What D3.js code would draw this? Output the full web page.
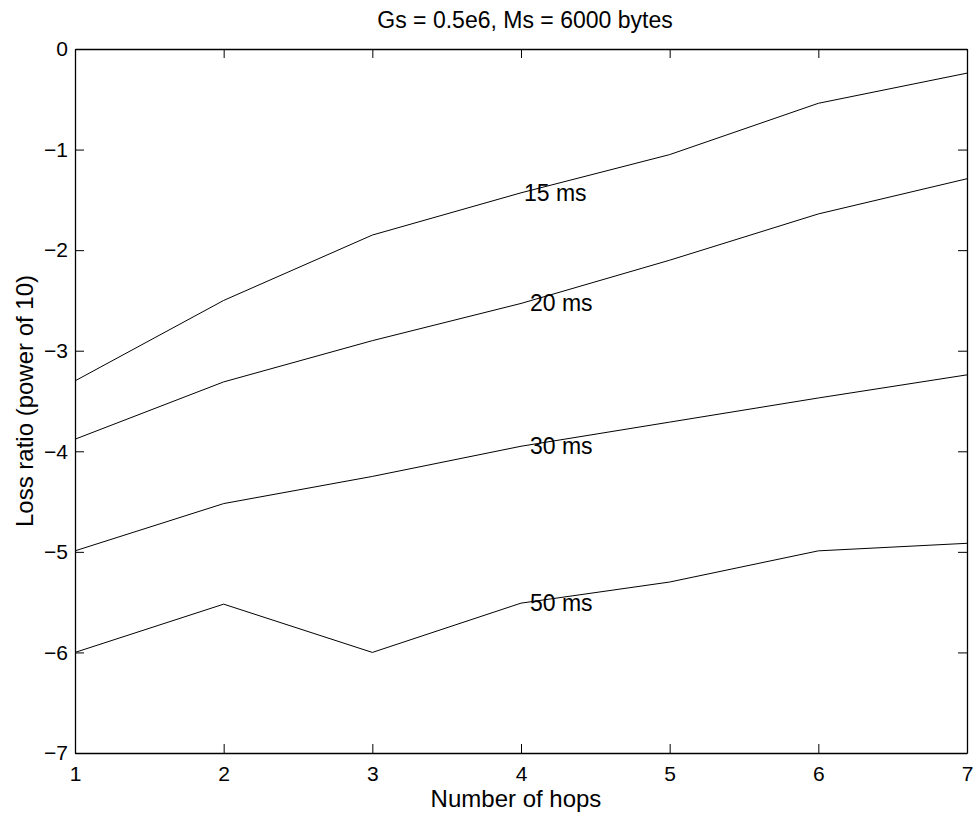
<!DOCTYPE html>
<html>
<head>
<meta charset="utf-8">
<script src="https://cdn.jsdelivr.net/npm/d3@7"></script>
<style>
  body { margin: 0; background: #fff; }
  svg { display: block; font-family: "Liberation Sans", Arial, sans-serif; }
</style>
</head>
<body>
<div id="chart"></div>
<script>
// hops on the x axis
const hops = [1, 2, 3, 4, 5, 6, 7];

// loss ratio (log10) per delay bound
const loss15 = [-3.30, -2.50, -1.85, -1.43, -1.05, -0.54, -0.24];
const loss20 = [-3.88, -3.31, -2.90, -2.53, -2.10, -1.64, -1.29];
const loss30 = [-4.99, -4.52, -4.25, -3.95, -3.71, -3.47, -3.24];
const loss50 = [-6.00, -5.52, -6.00, -5.51, -5.30, -4.99, -4.915];

const seriesNames = ['15 ms', '20 ms', '30 ms', '50 ms'];
const labelHop = [4.02, 4.06, 4.06, 4.06];

const xTicks = [1, 2, 3, 4, 5, 6, 7];
const yTicks = [0, -1, -2, -3, -4, -5, -6, -7];

const width = 975;
const height = 816;
const margin = { top: 49, right: 8, bottom: 63, left: 75 };

const svg = d3.select('#chart').append('svg')
  .attr('width', width)
  .attr('height', height);

const x = d3.scaleLinear()
  .domain([1, 7])
  .range([margin.left, width - margin.right]);

const y = d3.scaleLinear()
  .domain([-7, 0])
  .range([height - margin.bottom, margin.top]);

const series = [loss15, loss20, loss30, loss50];

// lines
const line = d3.line()
  .x((d, i) => x(hops[i]))
  .y(d => y(d));

series.forEach(values => {
  svg.append('path')
    .datum(values)
    .attr('d', line)
    .attr('fill', 'none')
    .attr('stroke', '#000')
    .attr('stroke-width', 1);
});

// inline labels sitting on the lines near hop 4
series.forEach((values, i) => {
  svg.append('text')
    .attr('x', x(labelHop[i]))
    .attr('y', y(values[3]))
    .attr('dy', '0.35em')
    .style('font-size', '23px')
    .text(seriesNames[i]);
});

// axes, ticks pointing inward (box on all four sides)
const tick = 9;

const xAxis = svg.append('g')
  .attr('transform', `translate(0,${y(-7)})`)
  .call(d3.axisBottom(x).tickValues(xTicks).tickFormat(d3.format('d'))
    .tickSizeInner(-tick).tickSizeOuter(0).tickPadding(13));

const xTop = svg.append('g')
  .attr('transform', `translate(0,${y(0)})`)
  .call(d3.axisTop(x).tickValues(xTicks).tickFormat('')
    .tickSizeInner(-tick).tickSizeOuter(0));

const yAxis = svg.append('g')
  .attr('transform', `translate(${x(1)},0)`)
  .call(d3.axisLeft(y).tickValues(yTicks).tickFormat(d3.format('d'))
    .tickSizeInner(-tick).tickSizeOuter(0).tickPadding(7));

const yRight = svg.append('g')
  .attr('transform', `translate(${x(7)},0)`)
  .call(d3.axisRight(y).tickValues(yTicks).tickFormat('')
    .tickSizeInner(-tick).tickSizeOuter(0));

[xAxis, xTop, yAxis, yRight].forEach(g => {
  g.selectAll('.domain').attr('stroke', '#000').attr('stroke-width', 1.3);
  g.selectAll('.tick line').attr('stroke', '#000');
  g.selectAll('.tick text')
    .attr('fill', '#000')
    .style('font-size', '21px')
    .style('font-family', '"Liberation Sans", Arial, sans-serif');
});

// title and axis labels
svg.append('text')
  .attr('x', (x(1) + x(7)) / 2 + 4)
  .attr('y', 28)
  .attr('text-anchor', 'middle')
  .style('font-size', '23px')
  .text('Gs = 0.5e6, Ms = 6000 bytes');

svg.append('text')
  .attr('x', (x(1) + x(7)) / 2 - 5)
  .attr('y', 807)
  .attr('text-anchor', 'middle')
  .style('font-size', '24px')
  .text('Number of hops');

svg.append('text')
  .attr('transform', `translate(33,${y(-3.5)}) rotate(-90)`)
  .attr('text-anchor', 'middle')
  .style('font-size', '24px')
  .text('Loss ratio (power of 10)');
</script>
</body>
</html>
